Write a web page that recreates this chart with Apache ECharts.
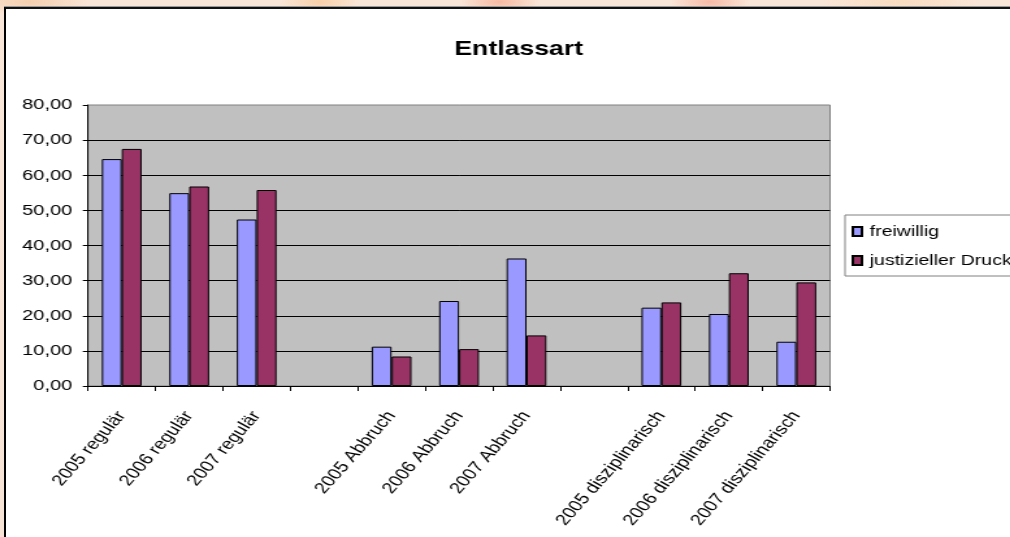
<!DOCTYPE html>
<html>
<head>
<meta charset="utf-8">
<script src="https://cdn.jsdelivr.net/npm/echarts@6/dist/echarts.min.js"></script>
<style>
  html, body { margin: 0; padding: 0; width: 1010px; height: 537px; overflow: hidden; }
  body {
    background:
      radial-gradient(ellipse 40px 12px at 710px 2px, #f7b9a6 0%, rgba(247,185,166,0) 100%),
      radial-gradient(ellipse 40px 12px at 500px 2px, #f6b8a0 0%, rgba(246,184,160,0) 100%),
      radial-gradient(ellipse 40px 12px at 320px 2px, #f8cfa8 0%, rgba(248,207,168,0) 100%),
      radial-gradient(ellipse 80px 12px at 900px 2px, #f9dcc0 0%, rgba(249,220,192,0) 100%),
      radial-gradient(ellipse 60px 14px at 30px 2px, #f5cfae 0%, rgba(245,207,174,0) 100%),
      linear-gradient(to bottom, #fae6d8 0%, #f6e3d6 100%);
  }
  #frame {
    position: absolute; left: 4px; top: 7px; width: 1100px; height: 600px;
    background: #fff; border-left: 2px solid #000; border-top: 2px solid #111;
    box-shadow: 0 -1px 0 #999;
  }
  #chart {
    position: absolute; left: 0; top: 0; width: 777px; height: 537px;
    transform: scaleX(1.3); transform-origin: 0 0;
  }
</style>
</head>
<body>
<div id="frame"></div>
<div id="chart"></div>
<script>
// ---- data ----
const titleText = 'Entlassart';
const categories = ['2005 regulär', '2006 regulär', '2007 regulär', '',
  '2005 Abbruch', '2006 Abbruch', '2007 Abbruch', '',
  '2005 disziplinarisch', '2006 disziplinarisch', '2007 disziplinarisch'];
const seriesNames = ['freiwillig', 'justizieller Druck'];
const freiwillig = [64.6, 54.9, 47.4, null, 11.2, 24.2, 36.3, null, 22.3, 20.5, 12.6];
const justiziellerDruck = [67.5, 56.8, 55.8, null, 8.4, 10.5, 14.4, null, 23.8, 32.1, 29.5];
const yMin = 0, yMax = 80, yStep = 10;

// ---- chart ----
const chart = echarts.init(document.getElementById('chart'), null, { renderer: 'canvas' });
const font = 'Liberation Sans, Arial, sans-serif';
const barStyle = (c) => ({ color: c, borderColor: '#000', borderWidth: 1 });

chart.setOption({
  backgroundColor: 'transparent',
  animation: false,
  title: {
    text: titleText,
    left: 394,
    textAlign: 'center',
    top: 34,
    textStyle: { fontFamily: font, fontSize: 20.5, fontWeight: 'bold', color: '#000' }
  },
  legend: {
    orient: 'vertical',
    left: 650,
    top: 215,
    padding: [9, 8, 8, 5],
    itemGap: 14,
    itemWidth: 7,
    itemHeight: 9,
    icon: 'rect',
    backgroundColor: '#fff',
    borderColor: '#808080',
    borderWidth: 1,
    borderRadius: 0,
    textStyle: { fontFamily: font, fontSize: 15, color: '#000', padding: [0, 0, 0, 1] },
    data: seriesNames
  },
  grid: {
    show: true,
    left: 67.7,
    right: 138.5,
    top: 105,
    bottom: 151,
    backgroundColor: '#c0c0c0',
    borderColor: '#808080',
    borderWidth: 1
  },
  xAxis: {
    type: 'category',
    data: categories,
    boundaryGap: true,
    axisLine: { show: true, lineStyle: { color: '#000', width: 1 } },
    axisTick: { show: true, interval: 0, length: 5, lineStyle: { color: '#000' } },
    axisLabel: {
      interval: 0, rotate: 55, margin: 27,
      fontFamily: font, fontSize: 15.5, color: '#000'
    },
    splitLine: { show: false }
  },
  yAxis: {
    type: 'value',
    min: yMin, max: yMax, interval: yStep,
    axisLine: { show: true, lineStyle: { color: '#000', width: 1 } },
    axisTick: { show: true, length: 4, lineStyle: { color: '#000' } },
    axisLabel: {
      margin: 12, fontFamily: font, fontSize: 15.5, color: '#000',
      formatter: (v) => v.toFixed(2).replace('.', ',')
    },
    splitLine: { show: true, showMinLine: false, showMaxLine: false, lineStyle: { color: '#000', width: 1 } }
  },
  series: [
    { name: seriesNames[0], type: 'bar', data: freiwillig, barGap: '0%', barCategoryGap: '41%', itemStyle: barStyle('#9999ff') },
    { name: seriesNames[1], type: 'bar', data: justiziellerDruck, barGap: '0%', barCategoryGap: '41%', itemStyle: barStyle('#993366') }
  ]
});
</script>
</body>
</html>
